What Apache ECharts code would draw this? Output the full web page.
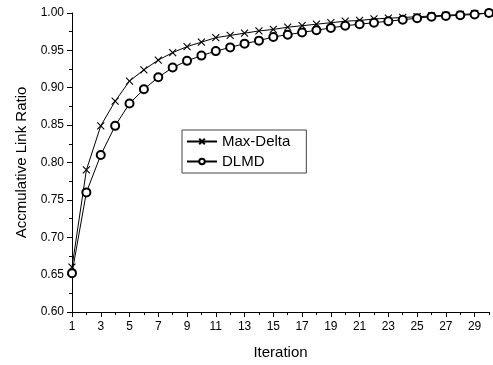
<!DOCTYPE html>
<html>
<head>
<meta charset="utf-8">
<script src="https://cdn.jsdelivr.net/npm/echarts@6/dist/echarts.min.js"></script>
<style>
  html, body { margin: 0; padding: 0; background: #fff; }
  #chart { width: 493px; height: 365px; }
</style>
</head>
<body>
<div id="chart"></div>
<script>
const iterations = Array.from({ length: 30 }, (_, i) => String(i + 1))

const maxDelta = [
  0.660, 0.790, 0.849, 0.882, 0.909, 0.924, 0.937, 0.947, 0.955, 0.961,
  0.967, 0.970, 0.973, 0.976, 0.978, 0.981, 0.983, 0.985, 0.987, 0.989,
  0.990, 0.992, 0.993, 0.994, 0.995, 0.996, 0.997, 0.998, 0.999, 1.000,
]

const dlmd = [
  0.652, 0.760, 0.810, 0.849, 0.879, 0.898, 0.914, 0.927, 0.936, 0.943,
  0.949, 0.954, 0.959, 0.963, 0.968, 0.971, 0.974, 0.977, 0.980, 0.983,
  0.985, 0.987, 0.989, 0.991, 0.993, 0.995, 0.996, 0.997, 0.998, 1.000,
]

const font = 'Liberation Sans, Arial, sans-serif'
const crossIcon = 'path://M0,0L10,10M10,0L0,10'

const chart = echarts.init(document.getElementById('chart'))

chart.setOption({
  animation: false,
  backgroundColor: '#fff',
  textStyle: { fontFamily: font, color: '#000' },
  grid: { left: 72, right: 4, top: 13, bottom: 50 },
  legend: {
    left: 182,
    top: 130,
    orient: 'vertical',
    itemWidth: 30,
    itemHeight: 7,
    itemGap: 5,
    padding: [4, 16, 4, 4],
    borderColor: '#444',
    borderWidth: 1,
    backgroundColor: '#fff',
    textStyle: { fontFamily: font, fontSize: 15, color: '#000' },
    data: ['Max-Delta', 'DLMD'],
  },
  xAxis: [
    {
      type: 'category',
      data: iterations,
      boundaryGap: false,
      name: 'Iteration',
      nameLocation: 'middle',
      nameGap: 33,
      nameTextStyle: { fontFamily: font, fontSize: 15, color: '#000' },
      axisLine: { lineStyle: { color: '#000', width: 1 } },
      axisTick: {
        length: 5,
        interval: (i) => i % 2 === 0,
        lineStyle: { color: '#000' },
      },
      axisLabel: {
        interval: (i) => i % 2 === 0,
        margin: 9,
        fontFamily: font,
        fontSize: 12,
        color: '#000',
      },
      splitLine: { show: false },
    },
    {
      type: 'category',
      data: iterations,
      boundaryGap: false,
      position: 'bottom',
      axisLine: { show: false },
      axisTick: {
        length: 3,
        interval: (i) => i % 2 === 1,
        lineStyle: { color: '#000' },
      },
      axisLabel: { show: false },
      splitLine: { show: false },
    },
  ],
  yAxis: {
    type: 'value',
    min: 0.6,
    max: 1.0,
    interval: 0.05,
    name: 'Accmulative Link Ratio',
    nameLocation: 'middle',
    nameGap: 42,
    nameTextStyle: { fontFamily: font, fontSize: 15, color: '#000' },
    axisLine: { show: true, lineStyle: { color: '#000', width: 1 } },
    axisTick: { show: true, length: 5, lineStyle: { color: '#000' } },
    minorTick: { show: true, splitNumber: 2, length: 3, lineStyle: { color: '#000' } },
    axisLabel: {
      margin: 8,
      fontFamily: font,
      fontSize: 12,
      color: '#000',
      formatter: (v) => v.toFixed(2),
    },
    splitLine: { show: false },
  },
  series: [
    {
      name: 'Max-Delta',
      type: 'line',
      data: maxDelta,
      symbol: crossIcon,
      symbolSize: 7,
      showAllSymbol: true,
      lineStyle: { color: '#000', width: 1 },
      itemStyle: { color: '#000', borderColor: '#000', borderWidth: 1.1 },
    },
    {
      name: 'DLMD',
      type: 'line',
      data: dlmd,
      symbol: 'emptyCircle',
      symbolSize: 8,
      showAllSymbol: true,
      lineStyle: { color: '#000', width: 1 },
      itemStyle: { color: '#000', borderColor: '#000', borderWidth: 1.2 },
    },
  ],
})
</script>
</body>
</html>
